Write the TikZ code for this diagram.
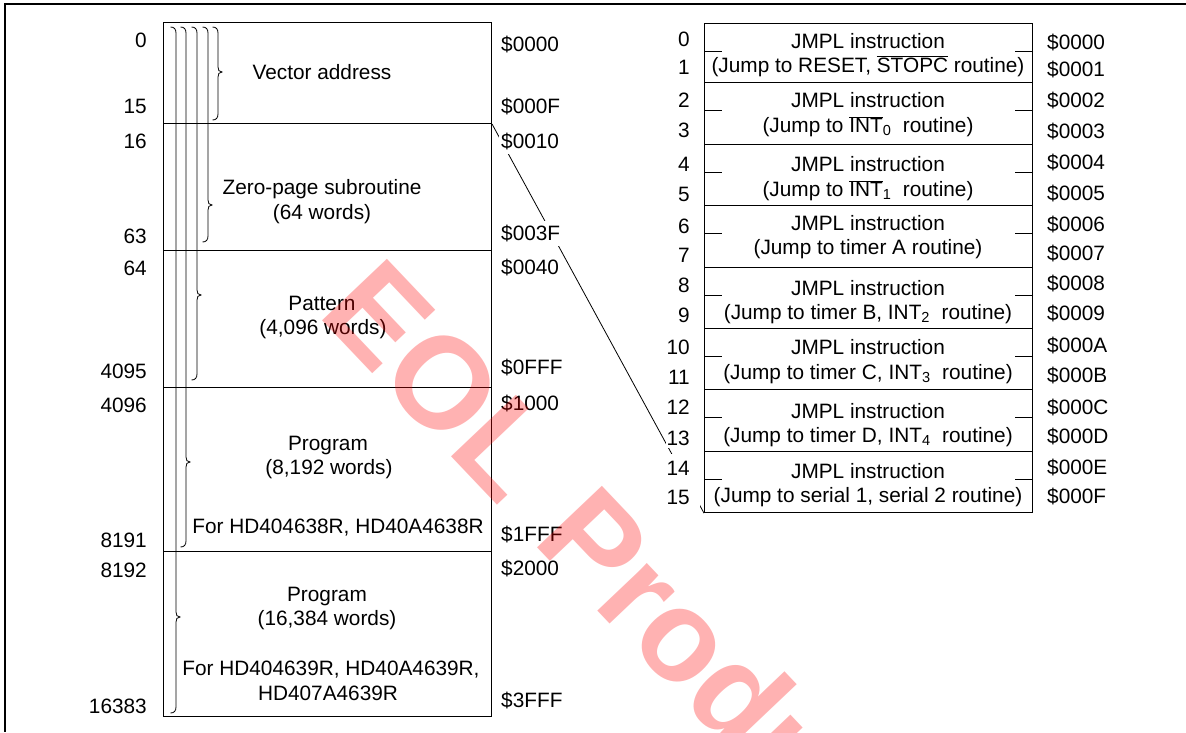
\documentclass[tikz,border=0pt]{standalone}
\usepackage{fontspec}
\setmainfont{Liberation Sans}
\newfontfamily\wmfont{Liberation Sans Bold}
\newcommand\myovl[1]{$\overline{\mbox{#1}}$}
\newcommand\membrace[3]{\draw[bracepath] (#1-5.5,27) .. controls (#1-2,27) and (#1,29) .. (#1,33) -- (#1,#2-5) .. controls (#1,#2-2) and (#1+1,#2) .. (#1+4,#2) .. controls (#1+1,#2) and (#1,#2+2) .. (#1,#2+5) -- (#1,#3-6) .. controls (#1,#3-2) and (#1-2,#3) .. (#1-5.5,#3);}
\begin{document}
\begin{tikzpicture}[x=1pt,y=-1pt,
  every node/.style={font=\fontsize{20.8}{24}\selectfont, inner sep=0pt},
  region/.style={draw, line width=1.1pt, minimum width=328pt, anchor=north west},
  trow/.style={draw, line width=1.1pt, minimum width=328pt, anchor=north west},
  lbl/.style={fill=white, inner xsep=2pt, inner ysep=4pt},
  idx/.style={fill=white, inner xsep=5pt, inner ysep=4pt, anchor=base east},
  txt/.style={anchor=base},
  bracepath/.style={line width=0.8pt},
  conn/.style={line width=0.8pt},
  tickmark/.style={line width=1pt},
  framel/.style={line width=1.4pt},
  wm/.style={font=\wmfont\fontsize{130}{140}\selectfont, text=red, text opacity=0.3, inner sep=0pt}
]
\useasboundingbox (0,0) rectangle (1186,732);
\draw[framel] (1186,4) -- (5,4) -- (5,732);

% left memory map
\node[region, minimum height=101pt] (m1) at (163,22) {};
\node[region, minimum height=127pt] (m2) at (163,123) {};
\node[region, minimum height=137pt] (m3) at (163,250) {};
\node[region, minimum height=164pt] (m4) at (163,387) {};
\node[region, minimum height=165pt] (m5) at (163,551) {};

% braces
\membrace{218}{72}{120}
\membrace{208}{205}{242}
\membrace{197}{295}{380}
\membrace{186}{462}{547}
\membrace{176}{617}{713}

% right vector table
\node[trow, minimum height=59pt] (t1) at (704,23) {};
\node[trow, minimum height=62pt] (t2) at (704,82) {};
\node[trow, minimum height=61pt] (t3) at (704,144) {};
\node[trow, minimum height=62pt] (t4) at (704,205) {};
\node[trow, minimum height=61pt] (t5) at (704,267) {};
\node[trow, minimum height=61pt] (t6) at (704,328) {};
\node[trow, minimum height=62pt] (t7) at (704,389) {};
\node[trow, minimum height=61pt] (t8) at (704,451) {};

\foreach \r in {t1,t2,t3,t4,t5,t6,t7,t8}{
  \draw[tickmark] ([yshift=-28pt]\r.north west) -- ++(18,0);
  \draw[tickmark] ([yshift=-28pt]\r.north east) -- ++(-18,0);
}

% connector
\draw[conn] (m1.south east) -- (t8.south west);

% left region texts
\node[txt] (v1) at (322,79.5) {Vector address};
\node[txt] (z1) at (322,194.5) {Zero-page subroutine};
\node[txt] (z2) at (322,219.5) {(64 words)};
\node[txt] (p1) at (322,310.5) {Pattern};
\node[txt] (p2) at (323,334.5) {(4,096 words)};
\node[txt] (g1) at (328,450.5) {Program};
\node[txt] (g2) at (329,474.5) {(8,192 words)};
\node[txt] (g3) at (338,533.5) {For HD404638R, HD40A4638R};
\node[txt] (h1) at (327,601.5) {Program};
\node[txt] (h2) at (327,625.5) {(16,384 words)};
\node[txt] (h3) at (331,675.5) {For HD404639R, HD40A4639R,};
\node[txt] (h4) at (328,700.5) {HD407A4639R};

% left word numbers
\node[lbl, anchor=base east] (a0) at (149,47.5) {0};
\node[lbl, anchor=base east] (a15) at (149,113.5) {15};
\node[lbl, anchor=base east] (a16) at (149,148.5) {16};
\node[lbl, anchor=base east] (a63) at (149,243.5) {63};
\node[lbl, anchor=base east] (a64) at (149,275.5) {64};
\node[lbl, anchor=base east] (a4095) at (149,378.5) {4095};
\node[lbl, anchor=base east] (a4096) at (149,412.5) {4096};
\node[lbl, anchor=base east] (a8191) at (149,547.5) {8191};
\node[lbl, anchor=base east] (a8192) at (149,577.5) {8192};
\node[lbl, anchor=base east] (a16383) at (149,713.5) {16383};

% hex addresses of the memory map
\node[lbl, anchor=base west] (x0000) at (499,51.5) {\$0000};
\node[lbl, anchor=base west] (x000F) at (499,113.5) {\$000F};
\node[lbl, anchor=base west] (x0010) at (499,148.5) {\$0010};
\node[lbl, anchor=base west] (x003F) at (499,240.5) {\$003F};
\node[lbl, anchor=base west] (x0040) at (499,274.5) {\$0040};
\node[lbl, anchor=base west] (x0FFF) at (499,374.5) {\$0FFF};
\node[lbl, anchor=base west] (x1000) at (499,410.5) {\$1000};
\node[lbl, anchor=base west] (x1FFF) at (499,541.5) {\$1FFF};
\node[lbl, anchor=base west] (x2000) at (499,575.5) {\$2000};
\node[lbl, anchor=base west] (x3FFF) at (499,707.5) {\$3FFF};

% table index numbers
\node[idx] (i0) at (695,46.5) {0};
\node[idx] (i1) at (695,74.5) {1};
\node[idx] (i2) at (695,107.5) {2};
\node[idx] (i3) at (695,137.5) {3};
\node[idx] (i4) at (695,171.5) {4};
\node[idx] (i5) at (695,201.5) {5};
\node[idx] (i6) at (695,233.5) {6};
\node[idx] (i7) at (695,262.5) {7};
\node[idx] (i8) at (695,292.5) {8};
\node[idx] (i9) at (695,322.5) {9};
\node[idx] (i10) at (695,354.5) {10};
\node[idx] (i11) at (695,384.5) {11};
\node[idx] (i12) at (695,414.5) {12};
\node[idx, inner xsep=1pt, inner ysep=2pt] (i13) at (691,445.5) {13};
\node[idx, inner xsep=10pt, inner ysep=7pt] (i14) at (700,475.5) {14};
\node[idx, inner xsep=10pt, inner ysep=7pt] (i15) at (700,504.5) {15};

% table hex addresses
\node[lbl, anchor=base west] (y0) at (1045,49.5) {\$0000};
\node[lbl, anchor=base west] (y1) at (1045,76.5) {\$0001};
\node[lbl, anchor=base west] (y2) at (1045,107.5) {\$0002};
\node[lbl, anchor=base west] (y3) at (1045,138.5) {\$0003};
\node[lbl, anchor=base west] (y4) at (1045,169.5) {\$0004};
\node[lbl, anchor=base west] (y5) at (1045,200.5) {\$0005};
\node[lbl, anchor=base west] (y6) at (1045,231.5) {\$0006};
\node[lbl, anchor=base west] (y7) at (1045,260.5) {\$0007};
\node[lbl, anchor=base west] (y8) at (1045,290.5) {\$0008};
\node[lbl, anchor=base west] (y9) at (1045,320.5) {\$0009};
\node[lbl, anchor=base west] (yA) at (1045,352.5) {\$000A};
\node[lbl, anchor=base west] (yB) at (1045,382.5) {\$000B};
\node[lbl, anchor=base west] (yC) at (1045,414.5) {\$000C};
\node[lbl, anchor=base west] (yD) at (1045,443.5) {\$000D};
\node[lbl, anchor=base west] (yE) at (1045,474.5) {\$000E};
\node[lbl, anchor=base west] (yF) at (1045,503.5) {\$000F};

% table texts
\node[txt] (r1a) at (868,48.5) {JMPL instruction};
\node[txt] (r1b) at (868,72.5) {(Jump to RESET, \myovl{STOPC} routine)};
\node[txt] (r2a) at (868,107.5) {JMPL instruction};
\node[txt] (r2b) at (868,132.5) {(Jump to \myovl{INT}\textsubscript{0}~ routine)};
\node[txt] (r3a) at (868,171.5) {JMPL instruction};
\node[txt] (r3b) at (868,196.5) {(Jump to \myovl{INT}\textsubscript{1}~ routine)};
\node[txt] (r4a) at (868,230.5) {JMPL instruction};
\node[txt] (r4b) at (868,254.5) {(Jump to timer A routine)};
\node[txt] (r5a) at (868,295.5) {JMPL instruction};
\node[txt] (r5b) at (868,319.5) {(Jump to timer B, INT\textsubscript{2}~ routine)};
\node[txt] (r6a) at (868,354.5) {JMPL instruction};
\node[txt] (r6b) at (868,379.5) {(Jump to timer C, INT\textsubscript{3}~ routine)};
\node[txt] (r7a) at (868,418.5) {JMPL instruction};
\node[txt] (r7b) at (868,442.5) {(Jump to timer D, INT\textsubscript{4}~ routine)};
\node[txt] (r8a) at (868,478.5) {JMPL instruction};
\node[txt] (r8b) at (868,502.5) {(Jump to serial 1, serial 2 routine)};

% watermark
\node[wm, rotate=-46.5, anchor=base west] (wmark) at (316,314) {EOL\hspace{10pt} Products};
\end{tikzpicture}
\end{document}
